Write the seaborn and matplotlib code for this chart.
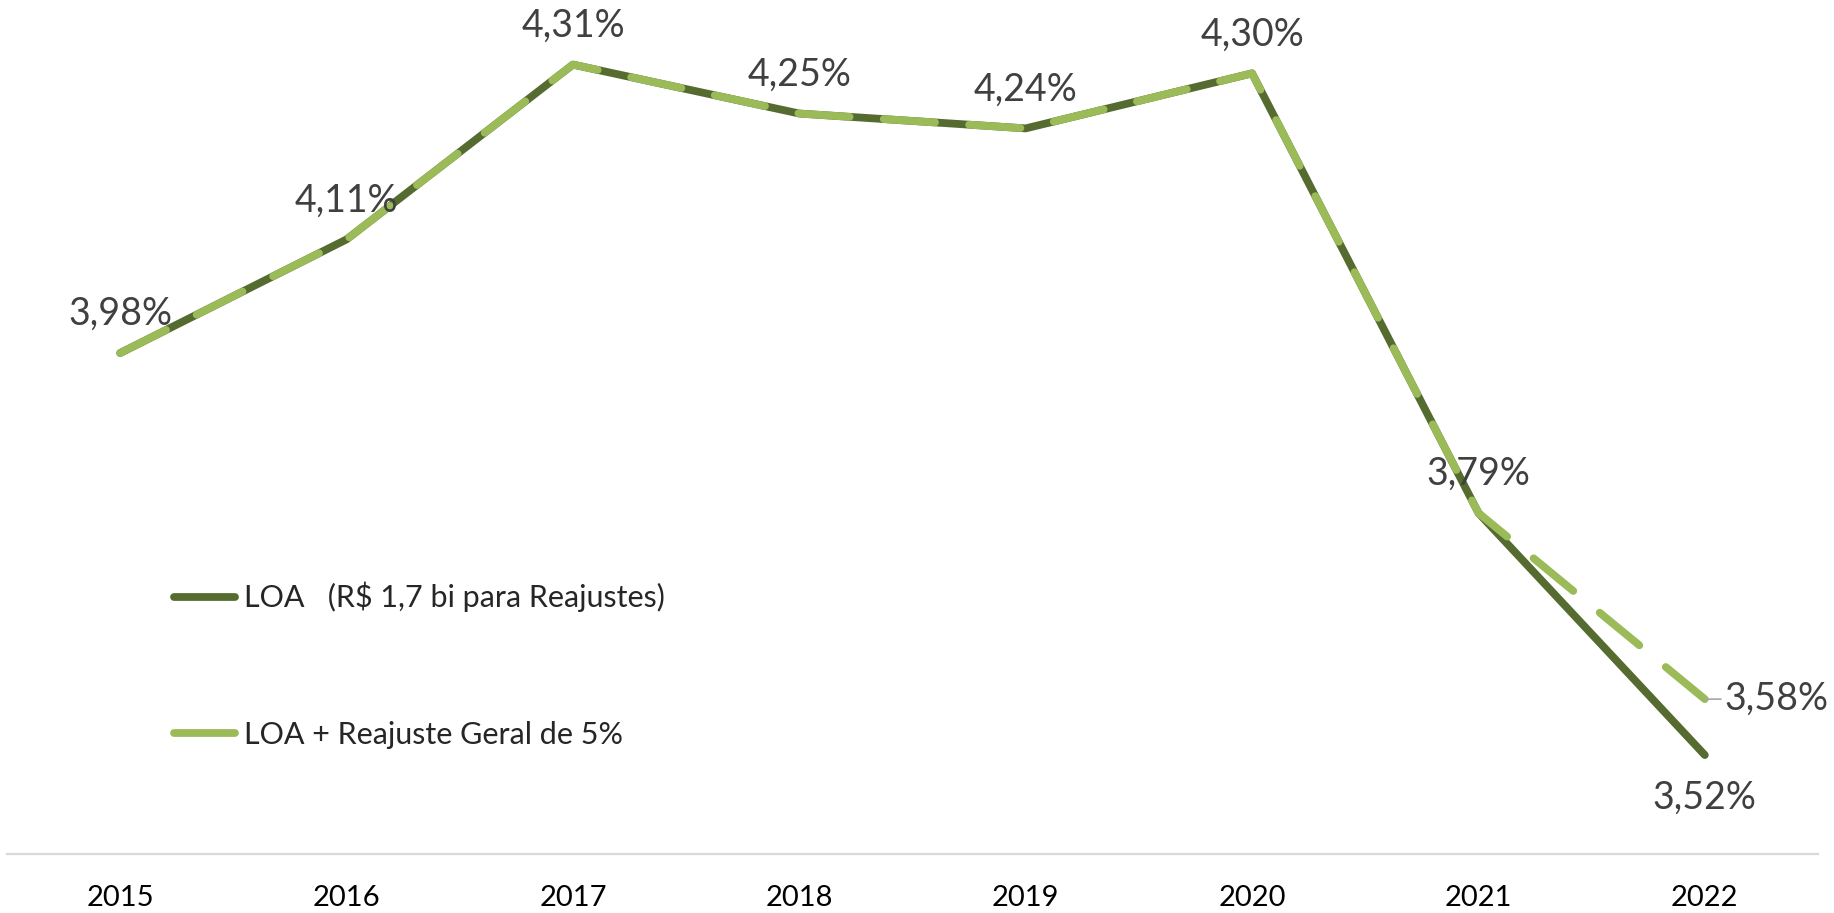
import numpy as np
import pandas as pd
import matplotlib.pyplot as plt
import seaborn as sns
from matplotlib.lines import Line2D

anos = ['2015', '2016', '2017', '2018', '2019', '2020', '2021', '2022']
loa = [3.98, 4.11, 4.31, 4.254, 4.237, 4.30, 3.797, 3.52]
loa_reajuste = [3.98, 4.11, 4.31, 4.254, 4.237, 4.30, 3.797, 3.584]
rotulos_reajuste = ['3,98%', '4,11%', '4,31%', '4,25%', '4,24%', '4,30%', '3,79%', '3,58%']
rotulo_loa_2022 = '3,52%'
nome_loa = 'LOA   (R\\$ 1,7 bi para Reajustes)'
nome_reaj = 'LOA + Reajuste Geral de 5%'

df = pd.DataFrame({
    'ano': anos * 2,
    'valor': loa + loa_reajuste,
    'serie': [nome_loa] * len(anos) + [nome_reaj] * len(anos),
})

sns.set_style('white')
plt.rcParams['font.family'] = ['Lato', 'DejaVu Sans']

escuro = '#556B2F'
claro = '#9BBB59'
cinza = '#404040'

fig = plt.figure(figsize=(18.34, 9.13), dpi=100)
ax = fig.add_axes([7 / 1834, 1 - 854 / 913, 1811 / 1834, 854 / 913])

sns.lineplot(data=df, x='ano', y='valor', hue='serie', style='serie', sort=False,
             palette={nome_loa: escuro, nome_reaj: claro},
             dashes={nome_loa: '', nome_reaj: (6.6, 4.4)},
             linewidth=5.6, ax=ax, legend=False)
for ln in ax.get_lines():
    ln.set_solid_capstyle('round')
    ln.set_dash_capstyle('round')

ax.set_xlim(-0.5, len(anos) - 0.5)
ax.set_ylim(3.4068, 4.3839)

# rótulos de dados
for i, (v, r) in enumerate(zip(loa_reajuste[:-1], rotulos_reajuste[:-1])):
    ax.annotate(r, (i, v), xytext=(0, 28), textcoords='offset points',
                ha='center', va='center', fontsize=27, color=cinza)
ax.annotate(rotulos_reajuste[-1], (7, loa_reajuste[-1]), xytext=(14, 0),
            textcoords='offset points', ha='left', va='center',
            fontsize=27, color=cinza,
            arrowprops=dict(arrowstyle='-', color='#a6a6a6', lw=1.2, shrinkA=0, shrinkB=0))
ax.annotate(rotulo_loa_2022, (7, loa[-1]), xytext=(0, -31),
            textcoords='offset points', ha='center', va='center',
            fontsize=27, color=cinza)

# legenda
handles = [Line2D([], [], color=escuro, lw=5.6, solid_capstyle='round'),
           Line2D([], [], color=claro, lw=5.6, solid_capstyle='round')]
ax.legend(handles, [nome_loa, nome_reaj], loc='upper left',
          bbox_to_anchor=(167 / 1811, 1 - 582 / 854), frameon=False,
          fontsize=22, labelspacing=3.55, handlelength=2.0, handletextpad=0.28,
          borderpad=0, borderaxespad=0)

for s in ['top', 'right', 'left']:
    ax.spines[s].set_visible(False)
ax.spines['bottom'].set_color('#d9d9d9')
ax.spines['bottom'].set_linewidth(1.6)
ax.set_yticks([])
ax.set_xlabel('')
ax.set_ylabel('')
ax.tick_params(axis='x', length=0, pad=22, labelsize=21, labelcolor='black')

plt.savefig('out.png', dpi=100)
